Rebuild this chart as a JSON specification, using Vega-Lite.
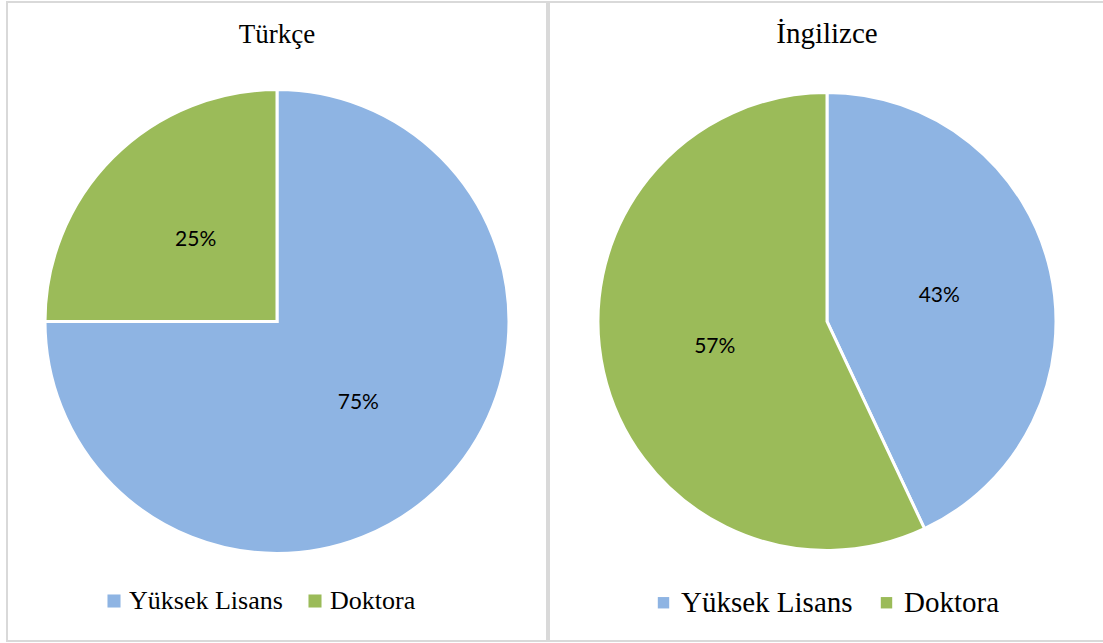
{
  "$schema": "https://vega.github.io/schema/vega-lite/v6.json",
  "padding": {"left": 6, "top": 1, "right": 0, "bottom": 0},
  "background": "white",
  "config": {
    "view": {"stroke": "#d9d9d9", "strokeWidth": 2},
    "concat": {"spacing": 0},
    "title": {"font": "Liberation Serif", "fontSize": 28, "fontWeight": "normal", "color": "black", "anchor": "middle"},
    "legend": {"labelFont": "Liberation Serif", "labelLimit": 400}
  },
  "datasets": {
    "turkce": [
      {"category": "Yüksek Lisans", "percent": 75, "label": "75%", "ord": 1},
      {"category": "Doktora", "percent": 25, "label": "25%", "ord": 2}
    ],
    "ingilizce": [
      {"category": "Yüksek Lisans", "percent": 43, "label": "43%", "ord": 1},
      {"category": "Doktora", "percent": 57, "label": "57%", "ord": 2}
    ]
  },
  "hconcat": [
    {
      "width": 540,
      "height": 639,
      "view": {"stroke": "#d9d9d9", "strokeWidth": 2},
      "title": {"text": "Türkçe", "offset": -47, "fontSize": 27},
      "data": {"name": "turkce"},
      "encoding": {
        "theta": {"field": "percent", "type": "quantitative", "stack": true},
        "order": {"field": "ord", "type": "quantitative"}
      },
      "layer": [
        {
          "mark": {"type": "arc", "outerRadius": 232, "stroke": "white", "strokeWidth": 3},
          "encoding": {
            "color": {
              "field": "category", "type": "nominal",
              "scale": {"domain": ["Yüksek Lisans", "Doktora"], "range": ["#8EB4E3", "#9BBB59"]},
              "legend": {
                "orient": "none", "legendX": 94, "legendY": 586, "direction": "horizontal",
                "title": null, "symbolType": "square", "symbolSize": 170, "symbolStrokeWidth": 0,
                "labelFont": "Liberation Serif", "labelFontSize": 26, "labelColor": "black", "labelLimit": 400,
                "columnPadding": 19, "labelOffset": 2
              }
            }
          }
        },
        {
          "mark": {"type": "text", "radius": 115, "font": "Lato", "fontSize": 21},
          "encoding": {
            "text": {"field": "label"},
            "color": {"value": "black"}
          }
        }
      ]
    },
    {
      "width": 556,
      "height": 639,
      "view": {"stroke": "#d9d9d9", "strokeWidth": 2},
      "title": {"text": "İngilizce", "offset": -47, "fontSize": 29},
      "data": {"name": "ingilizce"},
      "encoding": {
        "theta": {"field": "percent", "type": "quantitative", "stack": true},
        "order": {"field": "ord", "type": "quantitative"}
      },
      "layer": [
        {
          "mark": {"type": "arc", "outerRadius": 229, "stroke": "white", "strokeWidth": 3},
          "encoding": {
            "color": {
              "field": "category", "type": "nominal",
              "scale": {"domain": ["Yüksek Lisans", "Doktora"], "range": ["#8EB4E3", "#9BBB59"]},
              "legend": {
                "orient": "none", "legendX": 100, "legendY": 586, "direction": "horizontal",
                "title": null, "symbolType": "square", "symbolSize": 130, "symbolStrokeWidth": 0,
                "labelFont": "Liberation Serif", "labelFontSize": 29, "labelColor": "black", "labelLimit": 400,
                "columnPadding": 19, "labelOffset": 3
              }
            }
          }
        },
        {
          "mark": {"type": "text", "radius": 115, "font": "Lato", "fontSize": 21},
          "encoding": {
            "text": {"field": "label"},
            "color": {"value": "black"}
          }
        }
      ]
    }
  ],
  "resolve": {"legend": {"color": "independent"}}
}
